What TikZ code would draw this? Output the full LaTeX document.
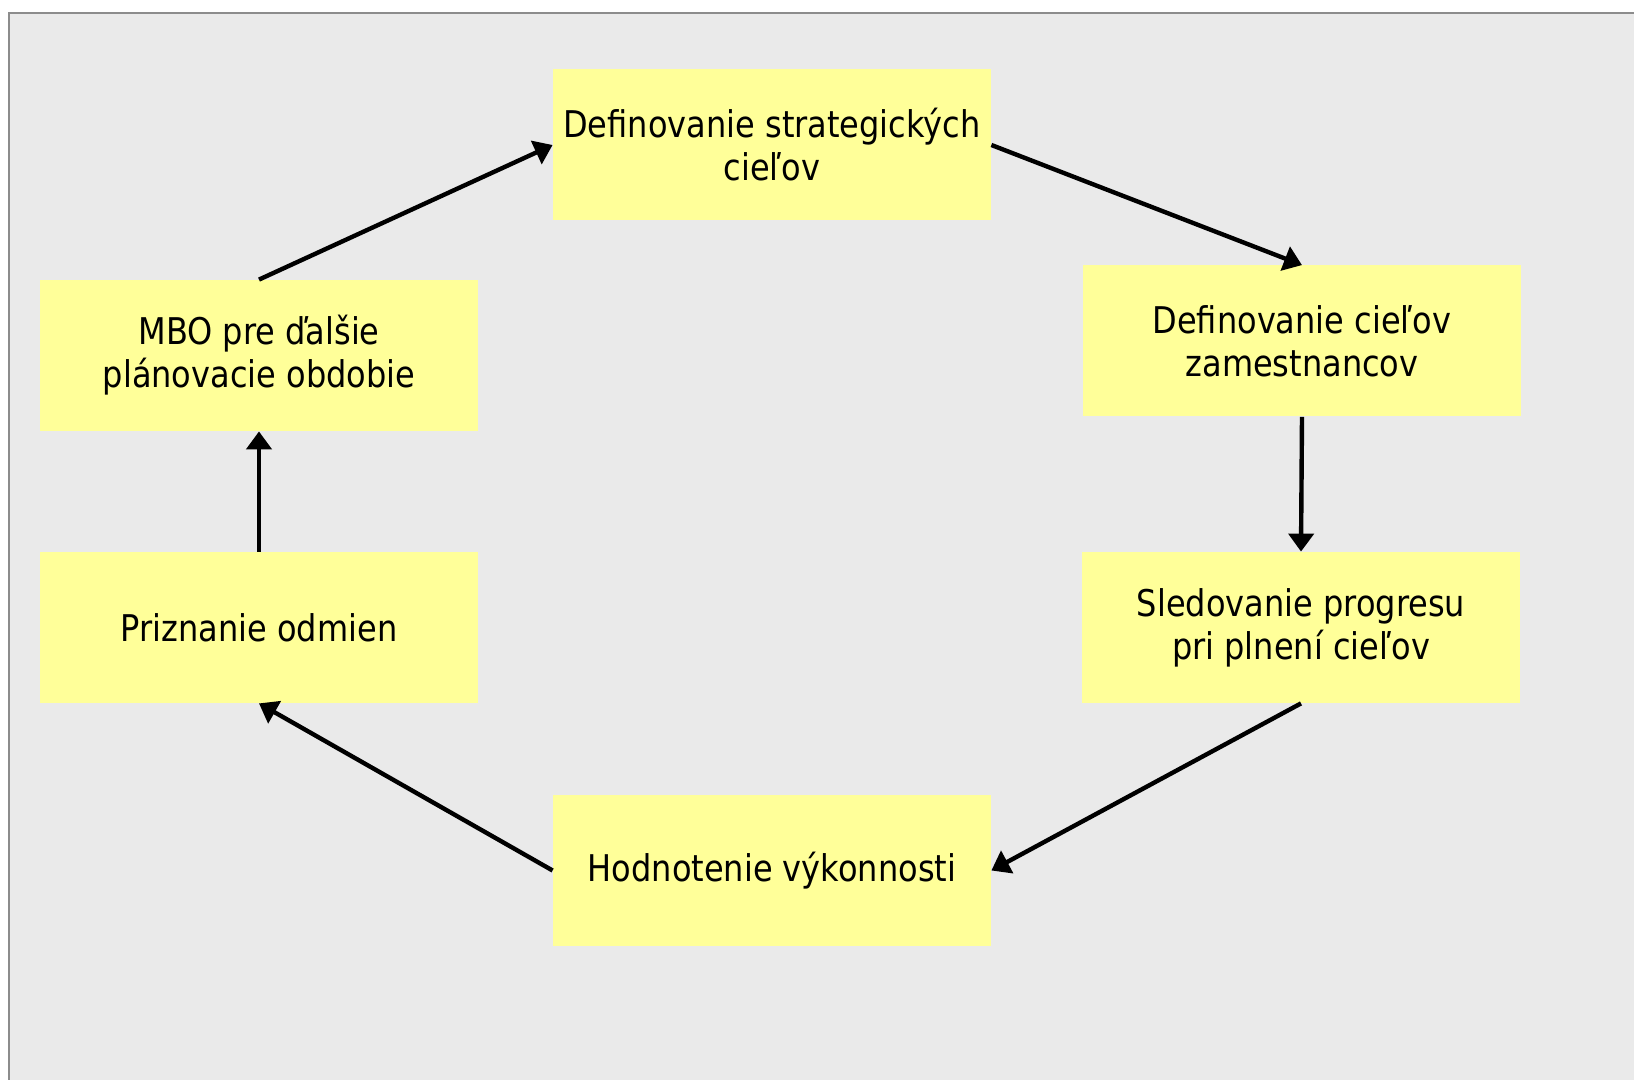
\documentclass[tikz,border=0pt]{standalone}
\usepackage{fontspec}
\setmainfont{DejaVu Sans}[FakeStretch=0.87]
\usetikzlibrary{arrows.meta}
\definecolor{bgc}{HTML}{EAEAEA}
\definecolor{boxc}{HTML}{FFFF99}
\definecolor{framec}{HTML}{8C8C8C}
\begin{document}
\begin{tikzpicture}[x=0.5pt,y=-0.5pt,
  stage/.style={fill=boxc, minimum width=219pt, minimum height=75.5pt, inner sep=0pt, align=center, font=\fontsize{18.4pt}{21.5pt}\selectfont},
  flow/.style={line width=2.2pt, -{Triangle[length=9pt,width=12.5pt]}}]
\useasboundingbox (0,0) rectangle (1634,1080);
\fill[white] (0,0) rectangle (1634,1080);
\begin{scope}
\clip (0,0) rectangle (1634,1080);
\draw[framec, line width=1pt, fill=bgc] (9,13) rectangle (1660,1110);
\end{scope}
\node[stage] (top) at (772,145) {Definovanie strategických\\cieľov};
\node[stage] (r1) at (1302,341) {Definovanie cieľov\\zamestnancov};
\node[stage] (r2) at (1301,627.5) {Sledovanie progresu\\pri plnení cieľov};
\node[stage] (bot) at (772,870.5) {Hodnotenie výkonnosti};
\node[stage] (l2) at (259,627.5) {Priznanie odmien};
\node[stage] (l1) at (259,355.5) {MBO pre ďalšie\\plánovacie obdobie};
\draw[flow] (l1.north) -- (top.west);
\draw[flow] (top.east) -- (r1.north);
\draw[flow] (r1.south) -- (r2.north);
\draw[flow] (r2.south) -- (bot.east);
\draw[flow] (bot.west) -- (l2.south);
\draw[flow] (l2.north) -- (l1.south);
\end{tikzpicture}
\end{document}
